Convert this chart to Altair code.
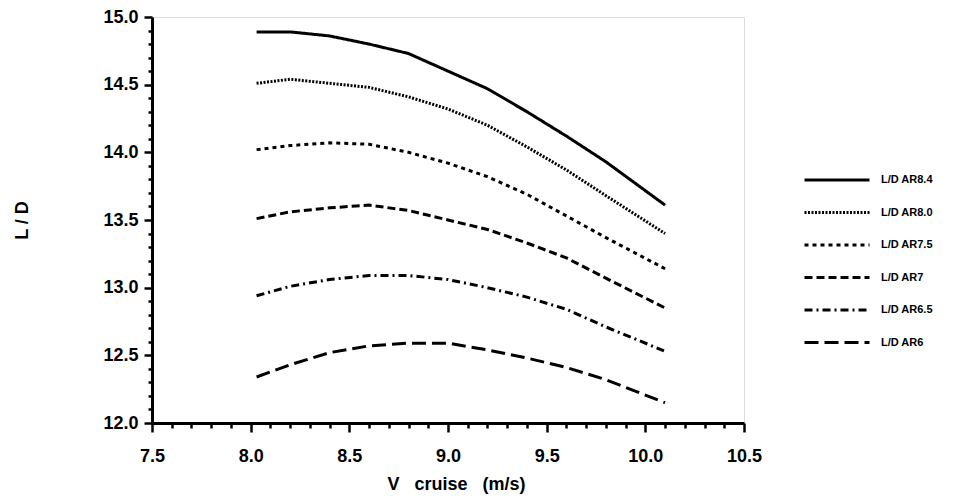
import altair as alt
import pandas as pd

v_cruise = [8.03, 8.2, 8.4, 8.6, 8.8, 9.0, 9.2, 9.4, 9.6, 9.8, 10.1]
series_names = ["L/D AR8.4", "L/D AR8.0", "L/D AR7.5", "L/D AR7", "L/D AR6.5", "L/D AR6"]
ld_ar84 = [14.89, 14.89, 14.86, 14.80, 14.73, 14.60, 14.47, 14.30, 14.12, 13.93, 13.61]
ld_ar80 = [14.51, 14.54, 14.51, 14.48, 14.41, 14.32, 14.20, 14.04, 13.87, 13.68, 13.40]
ld_ar75 = [14.02, 14.05, 14.07, 14.06, 14.00, 13.92, 13.82, 13.69, 13.53, 13.37, 13.14]
ld_ar70 = [13.51, 13.56, 13.59, 13.61, 13.57, 13.50, 13.43, 13.33, 13.22, 13.07, 12.85]
ld_ar65 = [12.94, 13.01, 13.06, 13.09, 13.09, 13.06, 13.00, 12.93, 12.84, 12.71, 12.53]
ld_ar60 = [12.34, 12.43, 12.52, 12.57, 12.59, 12.59, 12.54, 12.48, 12.41, 12.32, 12.15]
dash_styles = [[1, 0], [2, 1.5], [4, 4], [8, 4], [8, 4, 2, 4], [14, 6]]

x_ticks = [round(7.5 + 0.1 * i, 1) for i in range(31)]
y_ticks = [round(12.0 + 0.1 * i, 1) for i in range(31)]

rows = []
for name, vals in zip(series_names, [ld_ar84, ld_ar80, ld_ar75, ld_ar70, ld_ar65, ld_ar60]):
    for v, ld in zip(v_cruise, vals):
        rows.append({"series": name, "v": v, "ld": ld})
df = pd.DataFrame(rows)

FONT = "Liberation Sans"
major_test = "abs(datum.value * 2 - round(datum.value * 2)) < 1e-6"

x_axis = alt.Axis(
    values=x_ticks,
    labelExpr=f"{major_test} ? format(datum.value, '.1f') : ''",
    tickSize={"condition": {"test": major_test, "value": 9}, "value": 5},
    tickWidth=2.5,
    tickColor="black",
    domainWidth=3,
    domainColor="black",
    labelFont=FONT,
    labelFontSize=18,
    labelFontWeight="bold",
    labelColor="black",
    labelPadding=15,
    labelFlush=False,
    labelOverlap=False,
    grid=False,
    title="V\u00a0\u00a0 cruise\u00a0\u00a0 (m/s)",
    titleFont=FONT,
    titleFontSize=18,
    titleFontWeight="bold",
    titleColor="black",
    titleX=304,
    titleY=61,
    titleBaseline="middle",
    titleAlign="center",
)

y_axis = alt.Axis(
    values=y_ticks,
    labelExpr=f"{major_test} ? format(datum.value, '.1f') : ''",
    tickSize={"condition": {"test": major_test, "value": 8}, "value": 4},
    tickWidth=2.5,
    tickColor="black",
    domainWidth=3,
    domainColor="black",
    labelFont=FONT,
    labelFontSize=18,
    labelFontWeight="bold",
    labelColor="black",
    labelPadding=6,
    labelFlush=False,
    labelOverlap=False,
    grid=False,
    title="L / D",
    titleFont=FONT,
    titleFontSize=18,
    titleFontWeight="bold",
    titleColor="black",
    titleAngle=-90,
    titleX=-130,
    titleY=203,
    titleBaseline="middle",
    titleAlign="center",
)

chart = (
    alt.Chart(df)
    .mark_line(color="black", strokeWidth=3, strokeCap="butt")
    .encode(
        x=alt.X("v:Q", scale=alt.Scale(domain=[7.5, 10.5], nice=False, zero=False), axis=x_axis),
        y=alt.Y("ld:Q", scale=alt.Scale(domain=[12.0, 15.0], nice=False, zero=False), axis=y_axis),
        strokeDash=alt.StrokeDash(
            "series:N",
            scale=alt.Scale(domain=series_names, range=dash_styles),
            sort=series_names,
            legend=alt.Legend(
                title=None,
                orient="none",
                legendX=667,
                legendY=145,
                symbolType="M-2,0H2",
                symbolSize=1056,
                symbolStrokeWidth=3,
                symbolStrokeColor="black",
                symbolFillColor="transparent",
                labelFont=FONT,
                labelFontSize=11,
                labelFontWeight="bold",
                labelColor="black",
                labelOffset=26,
                rowPadding=8.5,
            ),
        ),
    )
    .properties(
        width=592,
        height=406,
        autosize=alt.AutoSizeParams(type="none"),
        padding={"left": 144, "top": 9, "right": 209, "bottom": 73},
    )
    .configure_view(stroke="black", strokeWidth=2)
    .configure(background="white")
)

chart.save("out.html", embed_options={"renderer": "svg", "actions": False})
